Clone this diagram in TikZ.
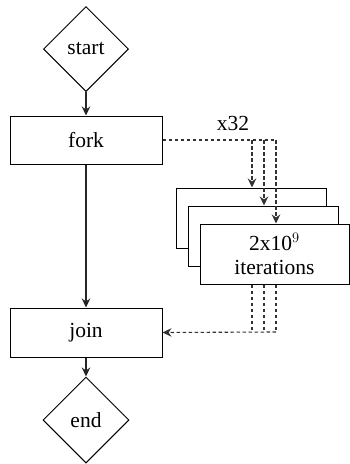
\documentclass[tikz,border=0pt]{standalone}
\usepackage{fontspec}
\setmainfont{Liberation Serif}
\usetikzlibrary{shapes.geometric,arrows.meta}
\begin{document}
\begin{tikzpicture}[x=1pt,y=1pt,
  every node/.style={font=\rmfamily\fontsize{21.5}{26}\selectfont},
  decision/.style={draw=black,fill=white,diamond,aspect=1,inner sep=0pt,minimum size=#1,line width=1pt},
  stepbox/.style={draw=black,fill=white,rectangle,inner sep=0pt,minimum width=152pt,minimum height=48pt,line width=1pt},
  workbox/.style={draw=black,fill=white,rectangle,inner sep=0pt,minimum width=150pt,minimum height=60pt,line width=1pt},
  flow/.style={draw=black!85,line width=1.1pt,-{Stealth[length=9pt,width=8.5pt]}},
  spawn/.style={draw=black!80,line width=1.1pt,dash pattern=on 3.5pt off 2.5pt},
  spawnarrow/.style={spawn,-{Stealth[length=9pt,width=8.5pt]}}]
\useasboundingbox (0,0) rectangle (349,-464);

% main flow
\node[decision=85pt] (start) at (86,-49) {start};
\node[stepbox] (fork) at (86,-140) {fork};
\node[stepbox,minimum height=49pt] (join) at (86,-332.5) {join};
\node[decision=86pt] (end) at (86,-420) {end};

\draw[flow] (start) -- (fork);
\draw[flow] (fork) -- (join);
\draw[flow] (join) -- (end);

% stacked worker boxes
\node[workbox] (w1) at (251,-218) {};
\node[workbox] (w2) at (263,-236) {};
\node[workbox,minimum width=149pt,align=center] (w3) at (274.5,-254) {2x10$^9$\\[-2pt]iterations};

% branch columns
\coordinate (c1) at (252,-140);
\coordinate (c2) at (264,-140);
\coordinate (c3) at (276,-140);
\coordinate (m3) at (276,-332);

\node (label) at (233,-123) {x32};

% fan-out
\draw[spawn] (fork.east) -- (c3);
\draw[spawnarrow] (c1) -- (c1 |- w1.north);
\draw[spawnarrow] (c2) -- (c2 |- w2.north);
\draw[spawnarrow] (c3) -- (c3 |- w3.north);

% fan-in
\draw[spawn] (c1 |- w3.south) -- (c1 |- m3);
\draw[spawn] (c2 |- w3.south) -- (c2 |- m3);
\draw[spawn] (c3 |- w3.south) -- (m3);
\draw[spawnarrow] (m3) -- (join.east);
\end{tikzpicture}
\end{document}
